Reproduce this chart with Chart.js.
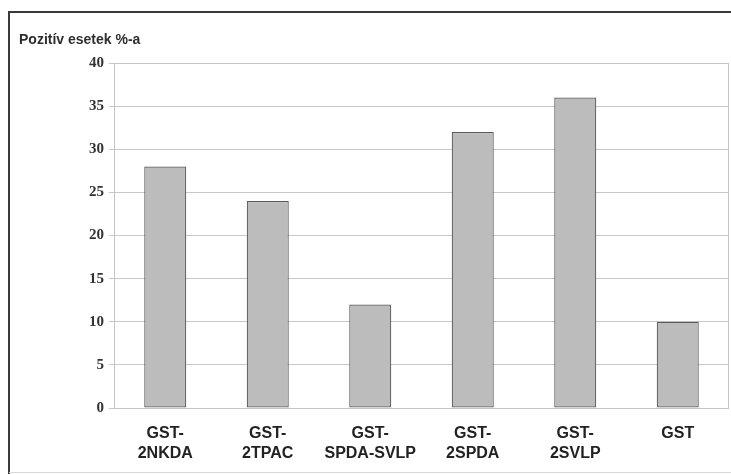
<!DOCTYPE html>
<html>
<head>
<meta charset="utf-8">
<script src="https://cdn.jsdelivr.net/npm/chart.js@4/dist/chart.umd.min.js"></script>
<style>
  html, body { margin: 0; padding: 0; background: #fff; }
  #wrap { width: 731px; height: 474px; position: relative; }
</style>
</head>
<body>
<div id="wrap"><canvas id="c" width="731" height="474"></canvas></div>
<script>
// Share of positive cases per marker panel
const categories = [
  ['GST-', '2NKDA'],
  ['GST-', '2TPAC'],
  ['GST-', 'SPDA-SVLP'],
  ['GST-', '2SPDA'],
  ['GST-', '2SVLP'],
  ['GST']
];
const positivePercent = [28, 24, 12, 32, 36, 10];
const yTitle = 'Pozitív esetek %-a';
const yMin = 0, yMax = 40, yStep = 5;

// Frame around the figure, plot box and the axis caption
const framePlugin = {
  id: 'frame',
  beforeDraw(chart) {
    const { ctx } = chart;
    ctx.save();
    ctx.fillStyle = '#fff';
    ctx.fillRect(0, 0, chart.width, chart.height);
    ctx.restore();
  },
  afterDraw(chart) {
    const { ctx, chartArea: a } = chart;
    ctx.save();
    // outer frame
    ctx.strokeStyle = '#3a3a3a';
    ctx.lineWidth = 2;
    ctx.beginPath();
    ctx.moveTo(9, chart.height);
    ctx.lineTo(9, 12);
    ctx.lineTo(chart.width, 12);
    ctx.stroke();
    ctx.strokeStyle = '#d8d8d8';
    ctx.lineWidth = 1;
    ctx.beginPath();
    ctx.moveTo(9, 472.5);
    ctx.lineTo(chart.width, 472.5);
    ctx.stroke();
    // plot box
    ctx.strokeStyle = '#c4c4c4';
    ctx.lineWidth = 1;
    ctx.strokeRect(a.left + 0.5, a.top + 0.5, a.right - a.left - 1, a.bottom - a.top);
    // axis caption
    ctx.fillStyle = '#2e2e2e';
    ctx.font = 'bold 14px "Liberation Sans", Arial, sans-serif';
    ctx.textBaseline = 'middle';
    ctx.textAlign = 'left';
    ctx.fillText(yTitle, 19, 40);
    ctx.restore();
  }
};

new Chart(document.getElementById('c'), {
  type: 'bar',
  data: {
    labels: categories,
    datasets: [{
      data: positivePercent,
      backgroundColor: '#bcbcbc',
      borderColor: '#5a5a5a',
      borderWidth: 1.2,
      borderSkipped: false,
      barPercentage: 0.41,
      categoryPercentage: 1
    }]
  },
  options: {
    responsive: false,
    animation: false,
    layout: { padding: { top: 63, left: 0, right: 2, bottom: 0 } },
    plugins: { legend: { display: false }, tooltip: { enabled: false } },
    scales: {
      x: {
        grid: { display: false, drawTicks: false },
        border: { display: false },
        ticks: {
          color: '#222',
          padding: 16,
          maxRotation: 0,
          autoSkip: false,
          font: { family: '"Liberation Sans", Arial, sans-serif', size: 16, weight: 'bold', lineHeight: 1.25 }
        },
        afterFit(scale) { scale.height = 66; }
      },
      y: {
        min: yMin,
        max: yMax,
        grid: { color: '#c8c8c8', tickLength: 5, drawTicks: true },
        border: { color: '#c4c4c4' },
        ticks: {
          stepSize: yStep,
          color: '#333',
          padding: 5,
          font: { family: '"Liberation Serif", "Times New Roman", serif', size: 15, weight: 'bold' }
        },
        afterFit(scale) { scale.width = 114; }
      }
    }
  },
  plugins: [framePlugin]
});
</script>
</body>
</html>
